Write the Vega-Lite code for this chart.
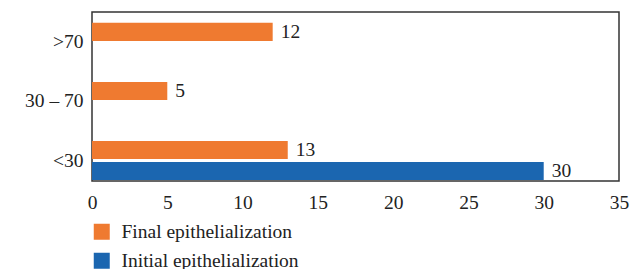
{
  "$schema": "https://vega.github.io/schema/vega-lite/v6.json",
  "width": 527,
  "height": 169,
  "autosize": {"type": "none"},
  "padding": {"left": 92, "top": 12, "right": 12, "bottom": 88},
  "background": "white",
  "config": {
    "view": {"stroke": "#333333", "strokeWidth": 1.5},
    "font": "Liberation Serif"
  },
  "data": {
    "values": [
      {"age": ">70", "stage": "Final epithelialization", "value": 12},
      {"age": "30 – 70", "stage": "Final epithelialization", "value": 5},
      {"age": "<30", "stage": "Final epithelialization", "value": 13},
      {"age": "<30", "stage": "Initial epithelialization", "value": 30}
    ]
  },
  "encoding": {
    "y": {
      "field": "age",
      "type": "nominal",
      "sort": [">70", "30 – 70", "<30"],
      "scale": {"paddingInner": 0.34, "paddingOuter": 0.1, "align": 0.92},
      "axis": {
        "title": null,
        "domain": false,
        "ticks": false,
        "grid": false,
        "labelFont": "Liberation Serif",
        "labelFontSize": 19.5,
        "labelColor": "#222222",
        "labelPadding": 9
      }
    },
    "yOffset": {
      "field": "stage",
      "type": "nominal",
      "sort": ["Final epithelialization", "Initial epithelialization"],
      "scale": {"paddingInner": 0.14, "paddingOuter": 0}
    },
    "x": {
      "field": "value",
      "type": "quantitative",
      "scale": {"domain": [0, 35], "nice": false},
      "axis": {
        "title": null,
        "values": [0, 5, 10, 15, 20, 25, 30, 35],
        "domain": false,
        "ticks": false,
        "grid": false,
        "labelFont": "Liberation Serif",
        "labelFontSize": 19.5,
        "labelColor": "#222222",
        "labelPadding": 12,
        "labelFlush": false
      }
    }
  },
  "layer": [
    {
      "mark": {"type": "bar"},
      "encoding": {
        "color": {
          "field": "stage",
          "type": "nominal",
          "sort": ["Final epithelialization", "Initial epithelialization"],
          "scale": {
            "domain": ["Final epithelialization", "Initial epithelialization"],
            "range": ["#EF7A30", "#1B66B0"]
          },
          "legend": {
            "title": null,
            "orient": "none",
            "legendX": 0,
            "legendY": 210,
            "direction": "vertical",
            "symbolType": "square",
            "symbolSize": 256,
            "symbolStrokeWidth": 0,
            "labelFont": "Liberation Serif",
            "labelFontSize": 19.5,
            "labelColor": "#222222",
            "labelOffset": 10,
            "labelLimit": 400,
            "rowPadding": 8
          }
        }
      }
    },
    {
      "mark": {"type": "text", "align": "left", "baseline": "middle", "dx": 8, "fontSize": 19.5, "font": "Liberation Serif", "color": "#222222"},
      "encoding": {
        "text": {"field": "value", "type": "quantitative"}
      }
    }
  ]
}
